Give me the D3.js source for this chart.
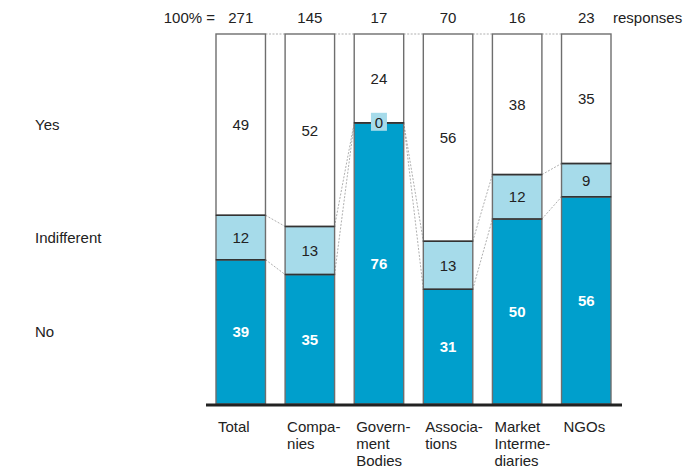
<!DOCTYPE html>
<html>
<head>
<meta charset="utf-8">
<script src="https://cdn.jsdelivr.net/npm/d3@7"></script>
<style>
  html, body { margin: 0; padding: 0; background: #fff; }
  svg { display: block; font-family: "Liberation Sans", Arial, sans-serif; }
</style>
</head>
<body>
<svg id="chart" width="690" height="475"></svg>
<script>
// Survey answers by respondent group (percent of responses)
const categories = ["Total", "Companies", "Government Bodies", "Associations", "Market Intermediaries", "NGOs"];
const categoryLines = [["Total"], ["Compa-", "nies"], ["Govern-", "ment", "Bodies"], ["Associa-", "tions"], ["Market", "Interme-", "diaries"], ["NGOs"]];
const responses = [271, 145, 17, 70, 16, 23];
const noValues = [39, 35, 76, 31, 50, 56];
const indifferentValues = [12, 13, 0, 13, 12, 9];
const yesValues = [49, 52, 24, 56, 38, 35];
const seriesNames = ["No", "Indifferent", "Yes"];
const seriesColors = ["#009fcc", "#a6dbea", "#ffffff"];
const seriesText = ["#ffffff", "#222222", "#222222"];

const FS = 15;
const svg = d3.select("#chart");
const x = d3.scaleBand().domain(categories).range([216, 611]).paddingInner(0.284).paddingOuter(0);
const y = d3.scaleLinear().domain([0, 100]).range([404, 34]);
const bw = x.bandwidth();

const rows = categories.map((c, i) => ({ cat: c, vals: [noValues[i], indifferentValues[i], yesValues[i]] }));
const stacked = d3.stack().keys([0, 1, 2]).value((d, k) => d.vals[k])(rows);

// dotted connectors between neighbouring bars at each segment boundary
const conn = svg.append("g").attr("stroke", "#9a9a9a").attr("stroke-width", 0.8).attr("stroke-dasharray", "2,1.5").attr("fill", "none");
for (let i = 0; i < categories.length - 1; i++) {
  const bounds = [stacked[0][i][1], stacked[1][i][1], 100];
  const nextBounds = [stacked[0][i + 1][1], stacked[1][i + 1][1], 100];
  bounds.forEach((b, k) => {
    conn.append("line")
      .attr("x1", x(categories[i]) + bw).attr("y1", y(b))
      .attr("x2", x(categories[i + 1])).attr("y2", y(nextBounds[k]));
  });
}

// stacked segments
stacked.forEach((layer, k) => {
  svg.append("g").selectAll("rect").data(layer).join("rect")
    .attr("x", d => x(d.data.cat))
    .attr("y", d => y(d[1]))
    .attr("width", bw)
    .attr("height", d => y(d[0]) - y(d[1]))
    .attr("fill", seriesColors[k])
    .attr("stroke", "#6e6e6e")
    .attr("stroke-width", 1.4);
});

// darker boundaries between segments
const bnd = svg.append("g").attr("stroke", "#333").attr("stroke-width", 1.5);
stacked.slice(0, 2).forEach(layer => {
  layer.forEach(d => {
    bnd.append("line")
      .attr("x1", x(d.data.cat)).attr("x2", x(d.data.cat) + bw)
      .attr("y1", y(d[1])).attr("y2", y(d[1]));
  });
});

// segment value labels
stacked.forEach((layer, k) => {
  layer.forEach(d => {
    const v = d.data.vals[k];
    const cx = x(d.data.cat) + bw / 2;
    const cy = (y(d[0]) + y(d[1])) / 2;
    if (v === 0) {
      svg.append("rect").attr("x", cx - 8).attr("y", cy - 10).attr("width", 16).attr("height", 18).attr("fill", seriesColors[k]);
    }
    svg.append("text")
      .attr("x", cx).attr("y", cy)
      .attr("dy", "0.36em")
      .attr("text-anchor", "middle")
      .attr("font-size", FS)
      .attr("font-weight", k === 0 ? "bold" : "normal")
      .attr("fill", seriesText[k])
      .text(v);
  });
});

// baseline
svg.append("line").attr("x1", 206).attr("x2", 622).attr("y1", 405).attr("y2", 405)
  .attr("stroke", "#222").attr("stroke-width", 3);

// header: response counts
svg.append("text").attr("x", 215).attr("y", 18).attr("dy", "0.36em").attr("text-anchor", "end")
  .attr("font-size", FS).attr("fill", "#222").text("100% =");
svg.append("g").selectAll("text").data(categories).join("text")
  .attr("x", d => x(d) + bw / 2).attr("y", 18).attr("dy", "0.36em").attr("text-anchor", "middle")
  .attr("font-size", FS).attr("fill", "#222").text((d, i) => responses[i]);
svg.append("text").attr("x", 613).attr("y", 18).attr("dy", "0.36em")
  .attr("font-size", FS).attr("fill", "#222").text("responses");

// series names aligned with the first bar's segments
stacked.forEach((layer, k) => {
  const d = layer[0];
  svg.append("text").attr("x", 35).attr("y", (y(d[0]) + y(d[1])) / 2).attr("dy", "0.36em")
    .attr("font-size", FS).attr("fill", "#222").text(seriesNames[k]);
});

// category labels
categories.forEach((c, i) => {
  const t = svg.append("text").attr("x", x(c) + 2).attr("y", 427).attr("font-size", FS).attr("fill", "#222");
  categoryLines[i].forEach((line, j) => {
    t.append("tspan").attr("x", x(c) + 2).attr("y", 427 + j * 17).attr("dy", "0.36em").text(line);
  });
});
</script>
</body>
</html>
